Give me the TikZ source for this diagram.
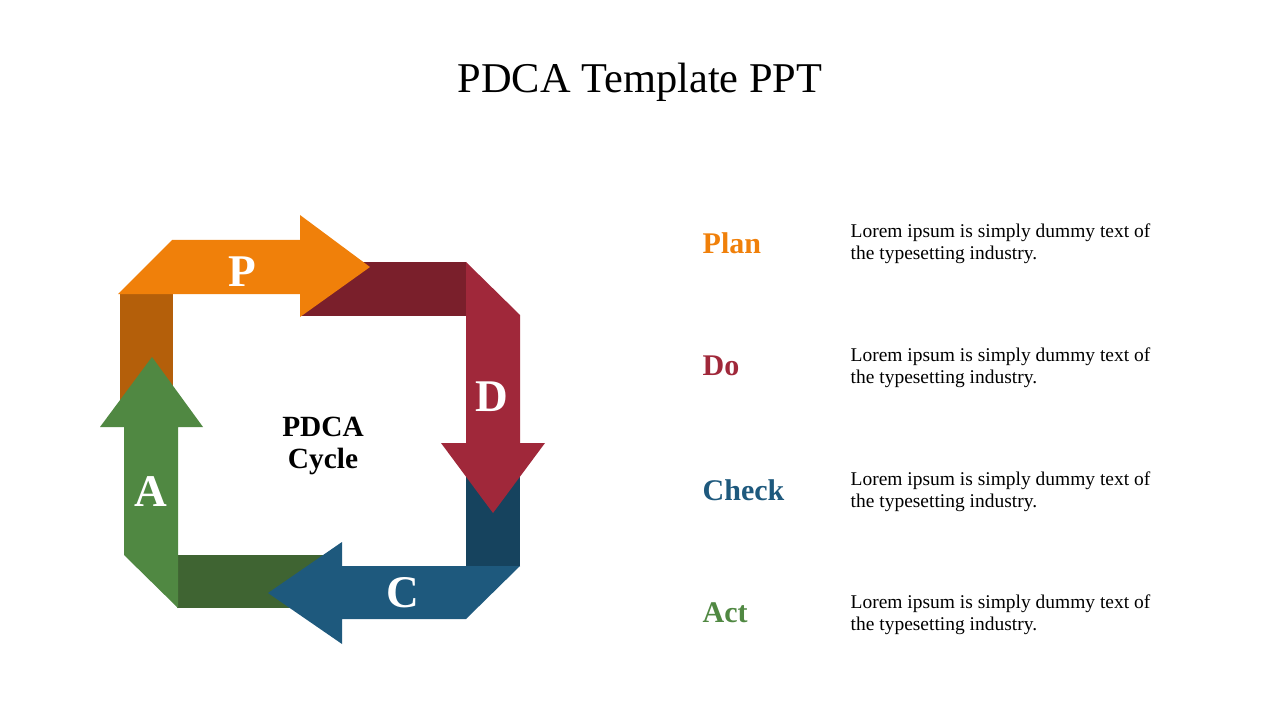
\documentclass[tikz,border=0pt]{standalone}
\usepackage{fontspec}
\setmainfont{Liberation Serif}
\definecolor{plancol}{RGB}{240,128,10}
\definecolor{plandark}{RGB}{180,95,10}
\definecolor{docol}{RGB}{160,40,58}
\definecolor{dodark}{RGB}{122,31,43}
\definecolor{checkcol}{RGB}{30,89,125}
\definecolor{checkdark}{RGB}{22,67,94}
\definecolor{actcol}{RGB}{80,136,66}
\definecolor{actdark}{RGB}{63,100,50}
\begin{document}
\begin{tikzpicture}[x=0.75pt,y=-0.75pt,
    letter/.style={text=white,font=\bfseries\fontsize{34}{40}\selectfont},
    stage/.style={anchor=west,font=\bfseries\fontsize{22.5}{26}\selectfont},
    desc/.style={anchor=west,align=left,font=\fontsize{14.6}{16.5}\selectfont}]
  \useasboundingbox (0,0) rectangle (1280,720);
  \node (title) at (640,82) {\fontsize{31.8}{36}\selectfont PDCA Template PPT};
  % darker tails behind the heads
  \fill[plandark] (120,294) rectangle (173,400);
  \fill[dodark] (300,262) rectangle (466,316);
  \fill[checkdark] (466,443) rectangle (520,566);
  \fill[actdark] (177,555) rectangle (342,608);
  % bent arrows
  \fill[plancol] (118,294) -- (172,240) -- (300,240) -- (300,215) -- (370,267)
    -- (300,317) -- (300,294) -- cycle;
  \fill[docol] (466,262) -- (520,315) -- (520,443) -- (545,443) -- (493,513)
    -- (441,443) -- (466,443) -- cycle;
  \fill[checkcol] (520,566) -- (466,619) -- (342,619) -- (342,644) -- (268,593)
    -- (342,542) -- (342,566) -- cycle;
  \fill[actcol] (178,608) -- (124,555) -- (124,427) -- (100,427) -- (152,357)
    -- (203,427) -- (178,427) -- cycle;
  \node[letter] (lp) at (242,272) {P};
  \node[letter] (ld) at (492,397) {D};
  \node[letter] (lc) at (403,593) {C};
  \node[letter] (la) at (151,492) {A};
  \node[align=center,font=\bfseries\fontsize{22}{24}\selectfont] (cycle) at (323,446) {PDCA\\Cycle};
  % legend
  \node[stage,text=plancol] (plan) at (698,243) {Plan};
  \node[stage,text=docol] (do) at (698,366) {Do};
  \node[stage,text=checkcol] (check) at (698,490) {Check};
  \node[stage,text=actcol] (act) at (698,613) {Act};
  \node[desc] (tplan) at (846,244) {Lorem ipsum is simply dummy text of\\the typesetting industry.};
  \node[desc] (tdo) at (846,368) {Lorem ipsum is simply dummy text of\\the typesetting industry.};
  \node[desc] (tcheck) at (846,492) {Lorem ipsum is simply dummy text of\\the typesetting industry.};
  \node[desc] (tact) at (846,615) {Lorem ipsum is simply dummy text of\\the typesetting industry.};
\end{tikzpicture}
\end{document}
